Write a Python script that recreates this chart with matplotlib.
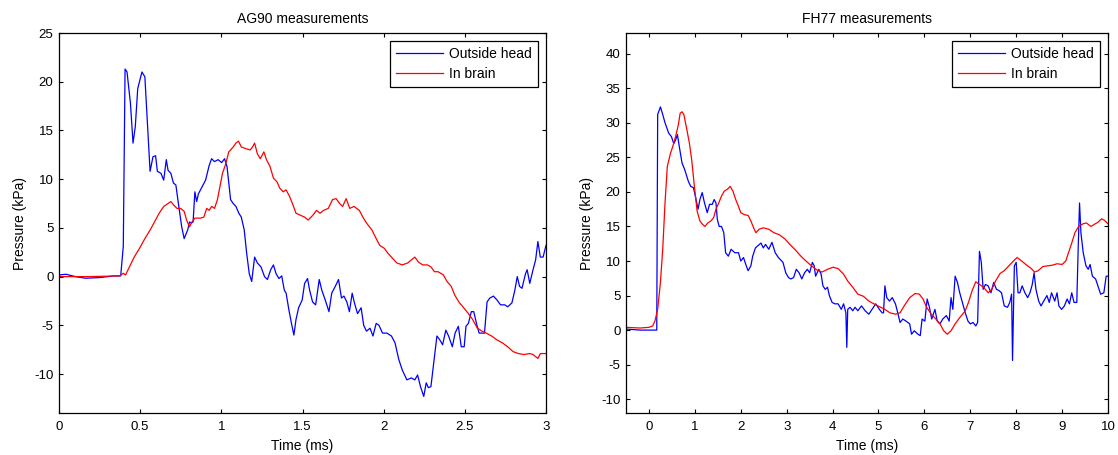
"""
Pressure traces: outside head vs in brain (AG90 and FH77)
"""

import matplotlib
matplotlib.use("Agg")
import matplotlib.pyplot as plt
from matplotlib.ticker import FuncFormatter

plt.rcParams['font.family'] = ['Liberation Sans', 'DejaVu Sans']

# AG90 - outside head
ag_out_t = [0, 0.044, 0.1, 0.165, 0.25, 0.34, 0.38, 0.396, 0.407, 0.419, 0.44, 0.456, 0.47, 0.485,
            0.511, 0.529, 0.546, 0.561, 0.579, 0.595, 0.606, 0.628, 0.645, 0.661, 0.672, 0.689, 0.705,
            0.72, 0.738, 0.756, 0.771, 0.793, 0.804, 0.815, 0.826, 0.837, 0.848, 0.859, 0.881, 0.903,
            0.925, 0.94, 0.958, 0.98, 1.002, 1.02, 1.035, 1.046, 1.057, 1.073, 1.09, 1.108, 1.123,
            1.141, 1.156, 1.172, 1.187, 1.205, 1.222, 1.244, 1.266, 1.284, 1.304, 1.321, 1.337, 1.355,
            1.372, 1.388, 1.399, 1.416, 1.432, 1.447, 1.46, 1.476, 1.498, 1.513, 1.531, 1.544, 1.562,
            1.581, 1.603, 1.619, 1.64, 1.663, 1.68, 1.702, 1.722, 1.74, 1.755, 1.773, 1.789, 1.806,
            1.82, 1.839, 1.861, 1.877, 1.894, 1.916, 1.934, 1.954, 1.971, 1.993, 2.02, 2.048, 2.07,
            2.093, 2.115, 2.143, 2.17, 2.192, 2.209, 2.227, 2.247, 2.262, 2.275, 2.291, 2.306, 2.328,
            2.346, 2.363, 2.383, 2.4, 2.423, 2.44, 2.46, 2.478, 2.496, 2.507, 2.522, 2.54, 2.555,
            2.573, 2.588, 2.606, 2.621, 2.637, 2.654, 2.676, 2.698, 2.72, 2.746, 2.764, 2.79, 2.808,
            2.823, 2.837, 2.852, 2.874, 2.884, 2.9, 2.92, 2.936, 2.95, 2.965, 2.982, 3.0]
ag_out_p = [0.17, 0.24, 0, -0.17, -0.1, 0.07, 0.07, 3.1, 21.3, 21, 17.8, 13.7, 15.4, 19.3,
            21, 20.5, 15.4, 10.8, 12.3, 12.4, 10.8, 10.6, 9.9, 12, 10.9, 10.6, 9.6,
            9.4, 7.2, 5.1, 3.9, 4.8, 5.6, 5.5, 5.6, 8.7, 7.7, 8.5, 9.2, 9.9,
            11.4, 12.1, 11.8, 12, 11.7, 12.1, 11.3, 9.6, 7.9, 7.5, 7.2, 6.5, 6.1,
            4.8, 2.4, 0.3, -0.5, 2.0, 1.4, 1.0, 0, -0.3, 0.7, 1.2, 0.3, -0.2,
            0.07, -1.4, -1.7, -3.4, -4.8, -6.0, -4.4, -3.2, -2.4, -0.7, -0.2, -1.4, -2.6,
            -2.9, -0.3, -1.4, -2.4, -3.6, -1.7, -1.0, -0.3, -2.2, -2.0, -2.6, -3.6, -1.7,
            -2.7, -3.8, -3.2, -5.0, -5.6, -5.3, -6.1, -4.8, -5.0, -5.8, -5.8, -6.1, -6.8,
            -8.5, -9.6, -10.6, -10.4, -10.6, -10.1, -11.3, -12.3, -10.9, -11.4, -11.3, -9.2, -6.1,
            -6.5, -7.0, -5.5, -6.1, -7.2, -5.8, -5.1, -7.2, -7.2, -5.1, -4.8, -3.6, -3.6,
            -4.9, -5.8, -5.8, -5.8, -2.6, -2.2, -2.0, -2.4, -2.9, -2.9, -3.1, -2.7, -1.4,
            0, -1.0, -1.2, 0.3, 0.7, -0.7, 0.7, 1.7, 3.6, 2.0, 2.0, 3.2]

# AG90 - in brain
ag_in_t = [0, 0.187, 0.374, 0.396, 0.41, 0.434, 0.463, 0.496, 0.529, 0.562, 0.588, 0.617, 0.645,
           0.672, 0.689, 0.709, 0.727, 0.749, 0.771, 0.786, 0.804, 0.819, 0.837, 0.87, 0.892, 0.91,
           0.925, 0.94, 0.958, 0.976, 0.991, 1.007, 1.024, 1.046, 1.073, 1.09, 1.106, 1.123, 1.156,
           1.178, 1.192, 1.205, 1.222, 1.24, 1.262, 1.278, 1.3, 1.321, 1.344, 1.359, 1.381, 1.399,
           1.421, 1.438, 1.46, 1.487, 1.513, 1.535, 1.564, 1.586, 1.608, 1.63, 1.659, 1.685, 1.707,
           1.729, 1.747, 1.769, 1.791, 1.817, 1.85, 1.872, 1.894, 1.927, 1.954, 1.976, 2.004, 2.026,
           2.048, 2.081, 2.115, 2.148, 2.17, 2.192, 2.214, 2.24, 2.269, 2.291, 2.313, 2.335, 2.368,
           2.39, 2.416, 2.438, 2.463, 2.493, 2.522, 2.548, 2.577, 2.606, 2.632, 2.665, 2.698, 2.731,
           2.764, 2.797, 2.83, 2.863, 2.9, 2.92, 2.95, 2.965, 3.0]
ag_in_p = [0, 0, 0.07, 0.34, 0.17, 1.0, 2.0, 2.9, 3.9, 4.8, 5.6, 6.5, 7.2,
           7.5, 7.7, 7.3, 7.0, 7.0, 6.7, 5.8, 5.1, 5.6, 6.0, 6.0, 6.1, 7.0,
           6.8, 7.2, 7.0, 7.9, 9.2, 10.6, 11.4, 12.8, 13.3, 13.7, 13.9, 13.3, 13.1,
           13.0, 13.3, 13.7, 12.6, 12.1, 12.8, 12.0, 11.3, 10.1, 9.7, 9.1, 8.7, 8.9,
           8.2, 7.5, 6.5, 6.3, 6.1, 5.8, 6.3, 6.8, 6.5, 6.8, 7.0, 7.9, 8.0,
           7.5, 7.2, 8.0, 7.0, 7.2, 6.8, 6.1, 5.5, 4.8, 3.9, 3.2, 2.9, 2.4,
           2.0, 1.4, 1.2, 1.4, 1.7, 2.0, 1.5, 1.2, 1.2, 1.0, 0.5, 0.5, 0.17,
           -0.5, -1.0, -1.9, -2.6, -3.2, -3.8, -4.4, -5.3, -5.6, -5.8, -6.1, -6.5, -6.8,
           -7.2, -7.7, -7.9, -8.0, -7.9, -8.0, -8.4, -7.9, -7.9]

# FH77 - outside head
fh_out_t = [-0.5, -0.19, 0.12, 0.17, 0.19, 0.25, 0.3, 0.35, 0.43, 0.49, 0.54, 0.58, 0.62, 0.66,
            0.72, 0.78, 0.86, 0.91, 0.97, 1.01, 1.07, 1.11, 1.16, 1.21, 1.27, 1.32, 1.38, 1.42,
            1.46, 1.49, 1.53, 1.58, 1.63, 1.67, 1.73, 1.79, 1.87, 1.95, 2.0, 2.06, 2.12, 2.16,
            2.22, 2.26, 2.32, 2.37, 2.44, 2.49, 2.54, 2.61, 2.68, 2.75, 2.82, 2.92, 2.98, 3.04,
            3.09, 3.15, 3.21, 3.27, 3.33, 3.39, 3.45, 3.5, 3.56, 3.6, 3.63, 3.7, 3.75, 3.79,
            3.84, 3.89, 3.93, 3.99, 4.05, 4.12, 4.19, 4.24, 4.29, 4.31, 4.33, 4.38, 4.44, 4.49,
            4.55, 4.63, 4.71, 4.79, 4.86, 4.94, 5.02, 5.08, 5.11, 5.14, 5.18, 5.24, 5.3, 5.37,
            5.42, 5.47, 5.53, 5.6, 5.68, 5.72, 5.78, 5.86, 5.91, 5.95, 6.01, 6.06, 6.11, 6.16,
            6.23, 6.28, 6.34, 6.4, 6.48, 6.54, 6.58, 6.62, 6.67, 6.72, 6.77, 6.82, 6.89, 6.95,
            7.0, 7.06, 7.12, 7.16, 7.2, 7.24, 7.28, 7.33, 7.39, 7.45, 7.51, 7.57, 7.63, 7.68,
            7.74, 7.81, 7.86, 7.9, 7.92, 7.96, 8.0, 8.04, 8.08, 8.13, 8.19, 8.25, 8.3, 8.35,
            8.39, 8.43, 8.49, 8.54, 8.6, 8.67, 8.72, 8.77, 8.84, 8.89, 8.93, 8.99, 9.05, 9.11,
            9.16, 9.21, 9.26, 9.32, 9.35, 9.38, 9.41, 9.46, 9.52, 9.57, 9.61, 9.66, 9.73, 9.78,
            9.84, 9.91, 9.96, 10.0]
fh_out_p = [0.15, 0, 0, 0, 31.2, 32.3, 31.2, 30, 28.5, 28, 27, 27.5, 28.3, 26.6,
            24.2, 23.2, 21.5, 20.8, 20.6, 19.4, 17.5, 18.9, 19.9, 18.4, 17, 18.2, 18.2, 18.9,
            18.4, 16, 15, 15, 14.1, 11.2, 10.7, 11.7, 11.2, 11.2, 10, 10.5, 9.3, 8.6,
            9.3, 10.7, 11.9, 12.2, 12.6, 11.9, 12.4, 11.7, 12.7, 11.2, 10.5, 9.8, 8.3, 7.6,
            7.4, 7.6, 8.8, 8.3, 7.4, 8.3, 8.8, 8.3, 9.8, 9.3, 7.8, 8.8, 8.1, 6.4,
            5.9, 6.2, 5.0, 4.0, 3.8, 3.8, 3.0, 3.8, 2.5, -2.5, 3.0, 3.3, 2.8, 3.3,
            2.8, 3.5, 2.8, 2.3, 3.0, 3.8, 3.0, 2.5, 2.5, 6.4, 4.7, 4.2, 4.7, 3.8,
            2.5, 1.1, 1.6, 1.3, 0.9, -0.6, -0.1, -0.6, -0.8, 1.6, 1.3, 4.5, 3.3, 1.6,
            3.0, 1.3, 0.9, 1.6, 2.1, 1.3, 4.7, 3.0, 7.8, 6.9, 5.4, 4.2, 2.5, 1.3,
            0.9, 1.1, 0.6, 1.1, 11.4, 9.8, 5.9, 6.6, 6.4, 5.4, 6.9, 5.9, 5.7, 5.4,
            3.5, 3.3, 4.0, 5.2, -4.4, 9.3, 9.8, 5.4, 5.4, 6.4, 5.4, 4.7, 5.4, 6.6,
            8.3, 5.9, 4.2, 3.5, 4.2, 5.0, 4.0, 5.4, 4.2, 5.4, 3.5, 3.0, 3.5, 4.5,
            3.8, 5.4, 4.0, 4.0, 11.7, 18.4, 14.1, 11.2, 9.3, 8.8, 9.5, 7.8, 7.4, 6.4,
            5.2, 5.4, 7.8, 7.8]

# FH77 - in brain
fh_in_t = [-0.5, -0.19, 0, 0.08, 0.13, 0.19, 0.25, 0.3, 0.35, 0.4, 0.47, 0.52, 0.58, 0.64,
           0.68, 0.72, 0.76, 0.82, 0.88, 0.93, 0.99, 1.05, 1.11, 1.17, 1.22, 1.28, 1.35, 1.41,
           1.46, 1.52, 1.58, 1.64, 1.71, 1.77, 1.83, 1.89, 1.95, 2.0, 2.08, 2.16, 2.22, 2.28,
           2.33, 2.4, 2.49, 2.61, 2.72, 2.84, 2.96, 3.07, 3.19, 3.31, 3.42, 3.54, 3.66, 3.77,
           3.89, 4.01, 4.12, 4.24, 4.33, 4.44, 4.55, 4.67, 4.79, 4.9, 5.02, 5.14, 5.25, 5.37,
           5.47, 5.56, 5.68, 5.8, 5.89, 5.97, 6.05, 6.15, 6.25, 6.34, 6.42, 6.5, 6.58, 6.67,
           6.77, 6.89, 6.96, 7.04, 7.12, 7.2, 7.29, 7.39, 7.47, 7.55, 7.65, 7.74, 7.84, 7.94,
           8.02, 8.12, 8.21, 8.33, 8.4, 8.48, 8.58, 8.69, 8.79, 8.89, 9.0, 9.08, 9.14, 9.21,
           9.28, 9.36, 9.46, 9.53, 9.63, 9.7, 9.78, 9.86, 9.92, 10.0]
fh_in_p = [0.4, 0.3, 0.4, 0.6, 1.3, 3.0, 6.9, 11.7, 18.4, 23.7, 25.6, 26.6, 28, 29.7,
           31.4, 31.6, 31.2, 29.2, 27.1, 24.7, 20.8, 17.2, 15.8, 15.3, 15, 15.5, 15.8, 16.3,
           17.5, 18.4, 19.4, 20.1, 20.4, 20.8, 20.1, 18.9, 17.9, 17.0, 16.7, 16.6, 15.8, 14.8,
           14.1, 14.6, 14.8, 14.6, 14.1, 13.8, 13.2, 12.4, 11.6, 10.7, 10.0, 9.3, 8.7, 8.4,
           8.8, 9.1, 8.9, 8.1, 7.1, 6.2, 5.2, 4.9, 4.2, 3.8, 3.4, 3.0, 2.5, 2.3,
           2.5, 3.5, 4.7, 5.3, 5.2, 4.5, 3.3, 2.3, 1.6, 0.9, -0.1, -0.6, -0.1, 0.9,
           1.8, 2.8, 4.0, 5.7, 7.0, 6.6, 6.2, 5.4, 5.9, 7.1, 8.2, 8.6, 9.3, 10.0,
           10.5, 10.0, 9.5, 8.9, 8.4, 8.6, 9.2, 9.3, 9.4, 9.6, 9.5, 10.0, 11.2, 12.6,
           14.1, 15.0, 15.4, 15.5, 15.0, 15.3, 15.6, 16.1, 15.9, 15.4]

panels = [
    ("AG90 measurements", ag_out_t, ag_out_p, ag_in_t, ag_in_p,
     (0, 3), (-14, 25), [0, 0.5, 1, 1.5, 2, 2.5, 3], list(range(-10, 26, 5))),
    ("FH77 measurements", fh_out_t, fh_out_p, fh_in_t, fh_in_p,
     (-0.5, 10), (-12, 43), list(range(0, 11)), list(range(-10, 41, 5))),
]

fig = plt.figure(figsize=(11.18, 4.55), dpi=100)
positions = [[59 / 1118, 42 / 455, 487 / 1118, 380 / 455],
             [626 / 1118, 42 / 455, 482 / 1118, 380 / 455]]

for pos, (title, t1, p1, t2, p2, xlim, ylim, xt, yt) in zip(positions, panels):
    ax = fig.add_axes(pos)
    ax.plot(t1, p1, color='#0000ff', lw=0.9, label='Outside head')
    ax.plot(t2, p2, color='#ff0000', lw=0.9, label='In brain')
    ax.set_xlim(*xlim)
    ax.set_ylim(*ylim)
    ax.set_xticks(xt)
    ax.set_yticks(yt)
    ax.xaxis.set_major_formatter(FuncFormatter(lambda v, _: f'{v:g}'))
    ax.yaxis.set_major_formatter(FuncFormatter(lambda v, _: f'{v:g}'))
    ax.tick_params(direction='in', top=True, right=True, length=3, width=0.8,
                   labelsize=9.5)
    ax.tick_params(axis='x', pad=6)
    ax.tick_params(axis='y', pad=4)
    for s in ax.spines.values():
        s.set_linewidth(0.9)
    ax.set_title(title, fontsize=10, pad=7)
    ax.set_xlabel('Time (ms)', fontsize=10, labelpad=4)
    ax.set_ylabel('Pressure (kPa)', fontsize=10, labelpad=5)
    leg = ax.legend(loc='upper right', fontsize=10, fancybox=False, framealpha=1,
                    edgecolor='black', handlelength=3.4, borderaxespad=0.55,
                    borderpad=0.45, labelspacing=0.45, handletextpad=0.43)
    leg.get_frame().set_linewidth(0.9)

fig.savefig('out.png', dpi=100)
